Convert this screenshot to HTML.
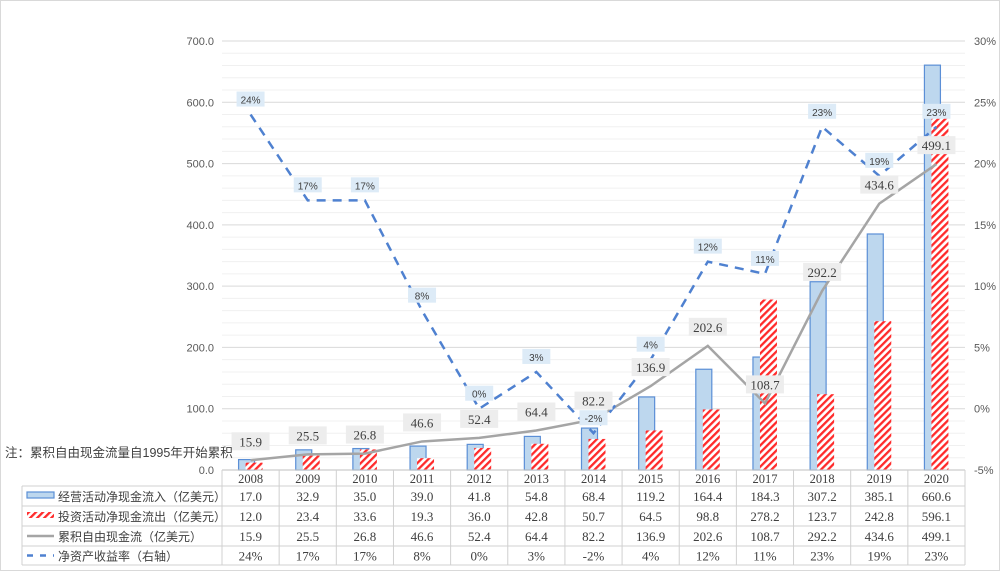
<!DOCTYPE html>
<html><head><meta charset="utf-8"><style>
body{margin:0;background:#fff;}
#wrap{position:relative;width:998px;height:569px;border:1px solid #d9d9d9;overflow:hidden;font-family:"Liberation Sans","Noto Sans CJK SC",sans-serif;}
svg text{font-family:"Liberation Sans","Noto Sans CJK SC",sans-serif;}
</style></head><body>
<div id="wrap">
<svg id="chart" width="998" height="569">
<defs>
<pattern id="hatch" width="5" height="5" patternUnits="userSpaceOnUse" patternTransform="rotate(45)">
<rect width="5" height="5" fill="#fff"/><rect width="2.3" height="5" fill="#ff2a2a"/>
</pattern>
</defs>
</svg>
</div>
<script>
const years=["2008","2009","2010","2011","2012","2013","2014","2015","2016","2017","2018","2019","2020"];
const inflow=[17.0,32.9,35.0,39.0,41.8,54.8,68.4,119.2,164.4,184.3,307.2,385.1,660.6];
const outflow=[12.0,23.4,33.6,19.3,36.0,42.8,50.7,64.5,98.8,278.2,123.7,242.8,596.1];
const cumFcf=[15.9,25.5,26.8,46.6,52.4,64.4,82.2,136.9,202.6,108.7,292.2,434.6,499.1];
const roe=[24,17,17,8,0,3,-2,4,12,11,23,19,23];
const leftTicks=[0,100,200,300,400,500,600,700];
const rightTicks=[-5,0,5,10,15,20,25,30];
const seriesNames=["经营活动净现金流入（亿美元）","投资活动净现金流出（亿美元）","累积自由现金流（亿美元）","净资产收益率（右轴）"];

const svg=document.getElementById('chart');
const NS='http://www.w3.org/2000/svg';
const X0=221,X1=964,Y0=469,Y1=40;
const colW=(X1-X0)/years.length;
const xc=i=>X0+colW*(i+0.5);
const yL=v=>Y0-(v-0)/(700-0)*(Y0-Y1);
const yR=p=>Y0-(p+5)/35*(Y0-Y1);
function el(tag,attrs,parent){const e=document.createElementNS(NS,tag);for(const k in attrs)e.setAttribute(k,attrs[k]);(parent||svg).appendChild(e);return e;}

for(let v=0;v<=700;v+=20){
  const g=el('line',{x1:X0,x2:X1,y1:yL(v),y2:yL(v),stroke:v%100===0?'#d9d9d9':'#f0f0f0','stroke-width':1});
  
  
}
leftTicks.forEach(v=>{
  const t=el('text',{x:X0-8,y:yL(v)+4,'text-anchor':'end','font-size':11,fill:'#595959'});
  t.textContent=v.toFixed(1);
  
  
});
rightTicks.forEach(p=>{
  const t=el('text',{x:X1+9,y:yR(p)+4,'font-size':11,fill:'#595959'});
  t.textContent=p+'%';
  
  
});

years.forEach((y,i)=>{
  const c=xc(i);
  const b=el('rect',{x:c-12,y:yL(inflow[i]),width:16,height:yL(0)-yL(inflow[i]),fill:'#bdd7ee',stroke:'#5b8fd6','stroke-width':1.2});
  
  
  const r=el('rect',{x:c-5,y:yL(outflow[i]),width:17,height:yL(0)-yL(outflow[i]),fill:'url(#hatch)'});
  
  
});

const cl=el('polyline',{points:cumFcf.map((v,i)=>xc(i)+','+yL(v)).join(' '),fill:'none',stroke:'#a5a5a5','stroke-width':2.5});


const rl=el('polyline',{points:roe.map((v,i)=>xc(i)+','+yR(v)).join(' '),fill:'none',stroke:'#4f81d0','stroke-width':2.5,'stroke-dasharray':'9,7'});



cumFcf.forEach((v,i)=>{
  const cx=xc(i),cy=yL(v)-19;
  const bg=el('rect',{x:cx-19,y:cy-9,width:38,height:18,fill:'#ededed'});
  
  
  const t=el('text',{x:cx,y:cy+5,'text-anchor':'middle','font-size':13,fill:'#404040',style:'font-family:"Liberation Serif",serif'});
  t.textContent=v.toFixed(1);
  
  
});
roe.forEach((v,i)=>{
  const cx=xc(i),cy=yR(v)-15;
  const bg=el('rect',{x:cx-14,y:cy-8,width:28,height:15,fill:'#ddebf7'});
  
  
  const t=el('text',{x:cx,y:cy+4,'text-anchor':'middle','font-size':10,fill:'#404040'});
  t.textContent=v+'%';
  
  
});

const note=el('text',{x:4,y:456,'font-size':12.5,fill:'#404040'});
note.textContent='注：累积自由现金流量自1995年开始累积';



const rowsY=[469,485,505,525,545,564];
const TL=21;
el('line',{x1:X0,x2:X1,y1:469,y2:469,stroke:'#bfbfbf'});
for(let r=1;r<rowsY.length;r++){el('line',{x1:TL,x2:X1,y1:rowsY[r],y2:rowsY[r],stroke:'#d0d0d0'});}
el('line',{x1:TL,x2:TL,y1:485,y2:564,stroke:'#d0d0d0'});
for(let i=0;i<=years.length;i++){el('line',{x1:X0+colW*i,x2:X0+colW*i,y1:469,y2:564,stroke:'#d0d0d0'});}
const tableData=[inflow.map(v=>v.toFixed(1)),outflow.map(v=>v.toFixed(1)),cumFcf.map(v=>v.toFixed(1)),roe.map(v=>v+'%')];
years.forEach((y,i)=>{
  const t=el('text',{x:xc(i),y:482,'text-anchor':'middle','font-size':12.5,fill:'#404040',style:'font-family:"Liberation Serif",serif'});
  t.textContent=y;
  
  
});
tableData.forEach((row,r)=>{
  const cy=(rowsY[r+1]+rowsY[r+2])/2+5;
  row.forEach((s,i)=>{
    const t=el('text',{x:xc(i),y:cy,'text-anchor':'middle','font-size':13,fill:'#404040',style:'font-family:"Liberation Serif",serif'});
    t.textContent=s;
    
    
  });
  let k;
  if(r===0){k=el('rect',{x:26,y:cy-9,width:27,height:6,fill:'#bdd7ee',stroke:'#5b8fd6','stroke-width':1.2});}
  else if(r===1){k=el('rect',{x:26,y:cy-9,width:27,height:6,fill:'url(#hatch)'});}
  else if(r===2){k=el('line',{x1:26,x2:53,y1:cy-5,y2:cy-5,stroke:'#a5a5a5','stroke-width':2.5});}
  else {k=el('line',{x1:26,x2:53,y1:cy-5,y2:cy-5,stroke:'#4f81d0','stroke-width':2.5,'stroke-dasharray':'6,7'});}
  
  
  const t=el('text',{x:57,y:cy,'font-size':12,fill:'#404040'});
  t.textContent=seriesNames[r];
  
  
});
</script>
</body></html>
